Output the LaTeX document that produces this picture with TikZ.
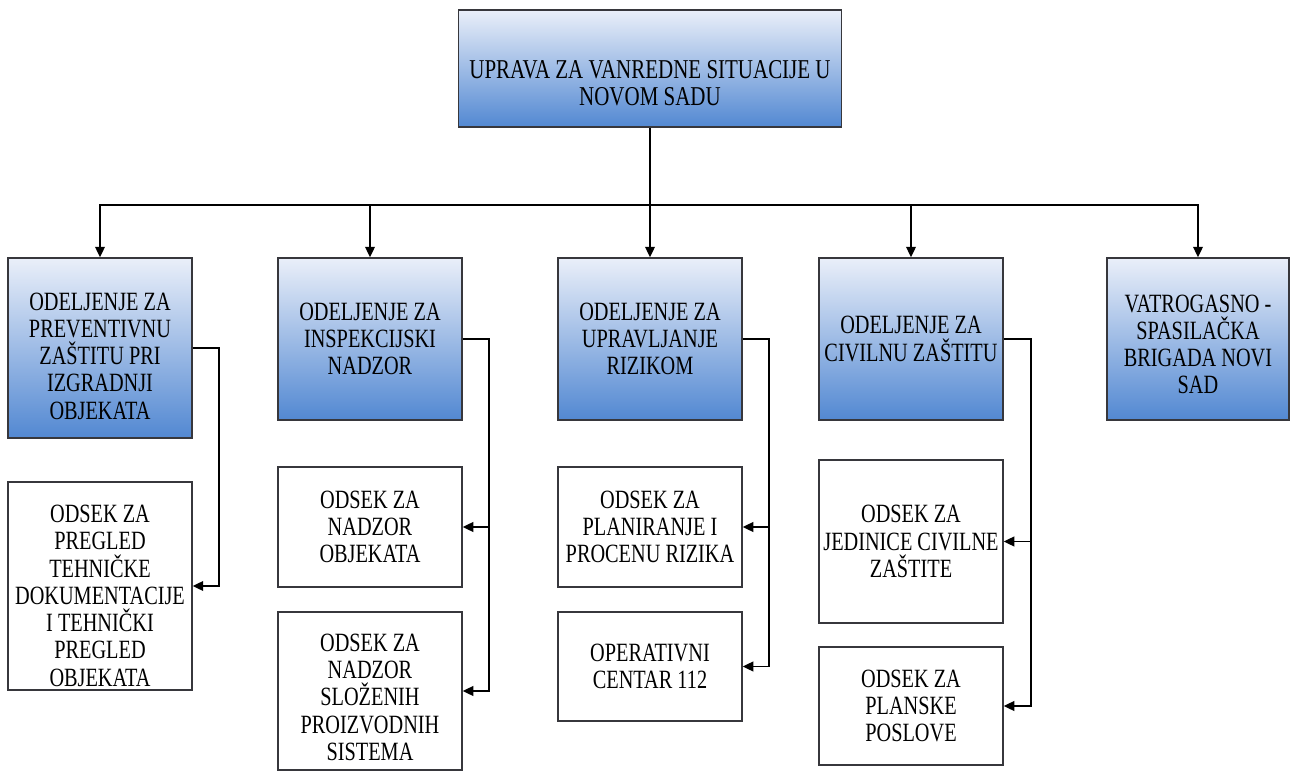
\documentclass[tikz,border=0pt]{standalone}
\usepackage{fontspec}
\setmainfont{Liberation Serif}[FakeStretch=0.77]
\usetikzlibrary{arrows.meta}

\definecolor{boxtop}{RGB}{234,239,249}
\definecolor{boxbottom}{RGB}{82,136,210}
\definecolor{boxline}{RGB}{55,55,60}

% taller first line, pushes the text down in its box
\newcommand{\dropby}[1]{\rule{0pt}{#1}}

\begin{document}
\begin{tikzpicture}[
    dept/.style={draw=boxline, line width=0.8pt, top color=boxtop, bottom color=boxbottom,
        minimum width=3.68cm, minimum height=3.24cm, inner sep=0pt, align=center,
        font=\fontsize{15}{15.5}\selectfont},
    sect/.style={draw=boxline, line width=0.8pt, fill=white,
        minimum width=3.68cm, inner sep=0pt, align=center,
        font=\fontsize{15}{15.5}\selectfont},
    link/.style={line width=1pt},
    arr/.style={line width=1pt, -{Triangle[length=6pt,width=5.5pt]}}
]
\useasboundingbox (0,0) rectangle (25.86,-15.48);

% Top box
\node[dept, minimum width=7.66cm, minimum height=2.34cm,
    font=\fontsize{15.5}{15.4}\selectfont] (top) at (13.0,-1.37)
    {\dropby{27pt}UPRAVA ZA VANREDNE SITUACIJE U\\NOVOM SADU};

% Departments
\node[dept, minimum height=3.6cm] (d1) at (2.0,-6.96)
    {\dropby{19pt}ODELJENJE ZA\\PREVENTIVNU\\ZAŠTITU PRI\\IZGRADNJI\\OBJEKATA};
\node[dept] (d2) at (7.4,-6.78) {ODELJENJE ZA\\INSPEKCIJSKI\\NADZOR};
\node[dept] (d3) at (13.0,-6.78) {ODELJENJE ZA\\UPRAVLJANJE\\RIZIKOM};
\node[dept] (d4) at (18.22,-6.78) {ODELJENJE ZA\\CIVILNU ZAŠTITU};
\node[dept, minimum width=3.64cm] (d5) at (23.96,-6.78)
    {\dropby{16pt}VATROGASNO -\\SPASILAČKA\\BRIGADA NOVI\\SAD};

% Sections
\node[sect, minimum height=4.16cm] (s1) at (2.0,-11.72)
    {\dropby{21pt}ODSEK ZA\\PREGLED\\TEHNIČKE\\DOKUMENTACIJE\\I TEHNIČKI\\PREGLED\\OBJEKATA};
\node[sect, minimum height=2.4cm] (s2a) at (7.4,-10.54) {ODSEK ZA\\NADZOR\\OBJEKATA};
\node[sect, minimum height=3.16cm] (s2b) at (7.4,-13.82)
    {\dropby{17pt}ODSEK ZA\\NADZOR\\SLOŽENIH\\PROIZVODNIH\\SISTEMA};
\node[sect, minimum height=2.4cm] (s3a) at (13.0,-10.54)
    {ODSEK ZA\\PLANIRANJE I\\PROCENU RIZIKA};
\node[sect, minimum height=2.18cm] (s3b) at (13.0,-13.33) {OPERATIVNI\\CENTAR 112};
\node[sect, minimum height=3.26cm] (s4a) at (18.22,-10.83)
    {ODSEK ZA\\JEDINICE CIVILNE\\ZAŠTITE};
\node[sect, minimum height=2.36cm] (s4b) at (18.22,-14.12)
    {ODSEK ZA\\PLANSKE\\POSLOVE};

% Top to departments
\coordinate (bus) at (13.0,-4.1);
\draw[link] (top.south) -- (bus);
\foreach \d in {d1,d2,d3,d4,d5}
    \draw[arr] (bus) -| (\d.north);

% Departments to sections
\draw[arr] (d1.east) -- ++(0.52,0) |- (s1.east);
\draw[arr] (d2.east) -- ++(0.52,0) coordinate (r2) |- (s2a.east);
\draw[arr] (r2) |- (s2b.east);
\draw[arr] (d3.east) -- ++(0.52,0) coordinate (r3) |- (s3a.east);
\draw[arr] (r3) |- (s3b.east);
\draw[arr] (d4.east) -- ++(0.54,0) coordinate (r4) |- (s4a.east);
\draw[arr] (r4) |- (s4b.east);
\end{tikzpicture}
\end{document}
